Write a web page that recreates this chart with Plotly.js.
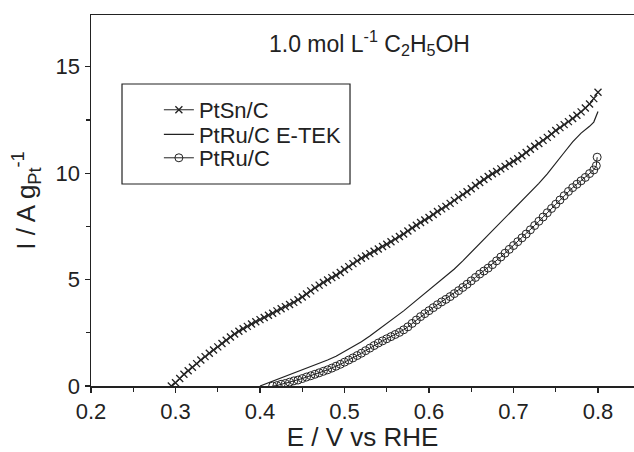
<!DOCTYPE html>
<html>
<head>
<meta charset="utf-8">
<script src="https://cdn.plot.ly/plotly-3.0.1.min.js"></script>
<style>html,body{margin:0;padding:0;background:#fff;}#chart{width:634px;height:452px;}</style>
</head>
<body>
<div id="chart"></div>
<script>
// PtSn/C
const ptsnE = [0.295,0.300,0.305,0.310,0.315,0.320,0.325,0.330,0.335,0.340,0.345,0.350,0.355,0.360,0.365,0.370,0.375,0.380,0.385,0.390,0.395,0.400,0.405,0.410,0.415,0.420,0.425,0.430,0.435,0.440,0.445,0.450,0.455,0.460,0.465,0.470,0.475,0.480,0.485,0.490,0.495,0.500,0.505,0.510,0.515,0.520,0.525,0.530,0.535,0.540,0.545,0.550,0.555,0.560,0.565,0.570,0.575,0.580,0.585,0.590,0.595,0.600,0.605,0.610,0.615,0.620,0.625,0.630,0.635,0.640,0.645,0.650,0.655,0.660,0.665,0.670,0.675,0.680,0.685,0.690,0.695,0.700,0.705,0.710,0.715,0.720,0.725,0.730,0.735,0.740,0.745,0.750,0.755,0.760,0.765,0.770,0.775,0.780,0.785,0.790,0.795,0.800];
const ptsnI = [0.0,0.15,0.35,0.55,0.72,0.88,1.05,1.22,1.38,1.54,1.69,1.84,2.0,2.15,2.3,2.44,2.57,2.69,2.8,2.91,3.02,3.12,3.22,3.32,3.42,3.53,3.63,3.73,3.83,3.93,4.05,4.18,4.32,4.47,4.61,4.74,4.86,4.98,5.09,5.2,5.33,5.47,5.61,5.75,5.88,6.0,6.11,6.22,6.33,6.44,6.55,6.66,6.78,6.9,7.02,7.14,7.28,7.42,7.55,7.68,7.8,7.92,8.06,8.2,8.32,8.44,8.58,8.72,8.86,8.99,9.13,9.27,9.42,9.56,9.7,9.84,9.97,10.08,10.2,10.32,10.44,10.56,10.68,10.82,10.97,11.12,11.26,11.39,11.54,11.68,11.84,12.0,12.14,12.28,12.42,12.57,12.72,12.88,13.06,13.25,13.5,13.8];

// PtRu/C E-TEK
const etekE = [0.40,0.41,0.42,0.43,0.44,0.45,0.46,0.47,0.48,0.49,0.50,0.51,0.52,0.53,0.54,0.55,0.56,0.57,0.58,0.59,0.60,0.61,0.62,0.63,0.64,0.65,0.66,0.67,0.68,0.69,0.70,0.71,0.72,0.73,0.74,0.75,0.76,0.77,0.78,0.79,0.795,0.80];
const etekI = [0.0,0.15,0.3,0.47,0.62,0.76,0.9,1.05,1.22,1.4,1.62,1.85,2.08,2.35,2.64,2.92,3.2,3.53,3.86,4.18,4.5,4.82,5.15,5.5,5.88,6.28,6.68,7.08,7.48,7.88,8.28,8.68,9.1,9.52,9.97,10.45,10.97,11.47,11.88,12.2,12.4,12.9];

// PtRu/C
const ptruE = [0.415,0.420,0.425,0.430,0.435,0.440,0.445,0.450,0.455,0.460,0.465,0.470,0.475,0.480,0.485,0.490,0.495,0.500,0.505,0.510,0.515,0.520,0.525,0.530,0.535,0.540,0.545,0.550,0.555,0.560,0.565,0.570,0.575,0.580,0.585,0.590,0.595,0.600,0.605,0.610,0.615,0.620,0.625,0.630,0.635,0.640,0.645,0.650,0.655,0.660,0.665,0.670,0.675,0.680,0.685,0.690,0.695,0.700,0.705,0.710,0.715,0.720,0.725,0.730,0.735,0.740,0.745,0.750,0.755,0.760,0.765,0.770,0.775,0.780,0.785,0.790,0.795,0.798,0.799];
const ptruI = [0.0,0.02,0.08,0.12,0.18,0.24,0.28,0.35,0.42,0.48,0.55,0.62,0.69,0.76,0.84,0.93,1.02,1.12,1.22,1.32,1.43,1.54,1.66,1.78,1.9,2.02,2.12,2.22,2.32,2.42,2.52,2.64,2.78,2.94,3.1,3.26,3.4,3.54,3.68,3.82,3.95,4.07,4.2,4.34,4.48,4.63,4.78,4.94,5.1,5.26,5.4,5.54,5.7,5.88,6.06,6.24,6.42,6.6,6.78,6.96,7.14,7.34,7.54,7.74,7.94,8.14,8.34,8.54,8.74,8.94,9.14,9.32,9.48,9.64,9.8,9.98,10.15,10.35,10.75];

const seriesNames = ['PtSn/C', 'PtRu/C E-TEK', 'PtRu/C'];
const xTitle = 'E / V vs RHE';
const yTitle = 'I / A g<sub>Pt</sub><sup>-1</sup>';
const note = '1.0 mol L<sup>-1</sup> C<sub>2</sub>H<sub>5</sub>OH';

const ink = '#222222';
const fontFam = '"Liberation Sans", Arial, Helvetica, sans-serif';

const traces = [
  {x: ptsnE, y: ptsnI, name: seriesNames[0], legend: 'legend', mode: 'lines+markers', type: 'scatter',
   line: {color: ink, width: 1}, marker: {symbol: 'x-thin-open', size: 7, color: ink, line: {color: ink, width: 1.3}}},
  {x: etekE, y: etekI, name: seriesNames[1], legend: 'legend2', mode: 'lines', type: 'scatter',
   line: {color: ink, width: 1.2}},
  {x: ptruE, y: ptruI, name: seriesNames[2], legend: 'legend3', mode: 'lines+markers', type: 'scatter',
   line: {color: ink, width: 1}, marker: {symbol: 'circle-open', size: 8, color: ink, line: {color: ink, width: 1}}}
];

const legFont = {family: fontFam, size: 22, color: ink};
function leg(yPaper) {
  return {x: 0.125, y: yPaper, xanchor: 'left', yanchor: 'middle', bgcolor: 'rgba(0,0,0,0)',
          borderwidth: 0, font: legFont};
}

const layout = {
  width: 634, height: 452,
  margin: {l: 91, r: 0, t: 15, b: 66},
  paper_bgcolor: '#fff', plot_bgcolor: '#fff',
  font: {family: fontFam, color: ink, size: 22},
  showlegend: true,
  legend: leg(0.744),
  legend2: leg(0.6775),
  legend3: leg(0.6146),
  xaxis: {
    range: [0.2, 0.8426], showgrid: false, zeroline: false,
    showline: true, linecolor: ink, linewidth: 1.5, mirror: true,
    ticks: 'outside', ticklen: 5, tickwidth: 1.2, tickcolor: ink,
    tick0: 0.2, dtick: 0.1, tickformat: '.1f',
    minor: {ticks: 'outside', dtick: 0.05, ticklen: 4, tickwidth: 1.2, tickcolor: ink},
    tickfont: {family: fontFam, size: 22, color: ink},
    title: {text: xTitle, font: {family: fontFam, size: 26, color: ink}, standoff: 12}
  },
  yaxis: {
    range: [0, 17.43], showgrid: false, zeroline: false,
    showline: true, linecolor: ink, linewidth: 1.5,
    ticks: 'outside', ticklen: 5, tickwidth: 1.2, tickcolor: ink,
    tick0: 0, dtick: 5,
    minor: {ticks: 'outside', dtick: 2.5, ticklen: 4, tickwidth: 1.2, tickcolor: ink},
    tickfont: {family: fontFam, size: 22, color: ink},
    title: {text: yTitle, font: {family: fontFam, size: 26, color: ink}, standoff: 12}
  },
  shapes: [
    {type: 'rect', xref: 'paper', yref: 'paper', x0: 0.0571, x1: 0.4770, y0: 0.5445, y1: 0.814,
     line: {color: ink, width: 1.2}, fillcolor: 'rgba(0,0,0,0)'}
  ],
  annotations: [
    {text: note, xref: 'paper', yref: 'paper', x: 0.512, y: 0.925, xanchor: 'center', yanchor: 'middle',
     showarrow: false, font: {family: fontFam, size: 23, color: ink}}
  ]
};

Plotly.newPlot('chart', traces, layout, {displayModeBar: false, staticPlot: true});
</script>
</body>
</html>
